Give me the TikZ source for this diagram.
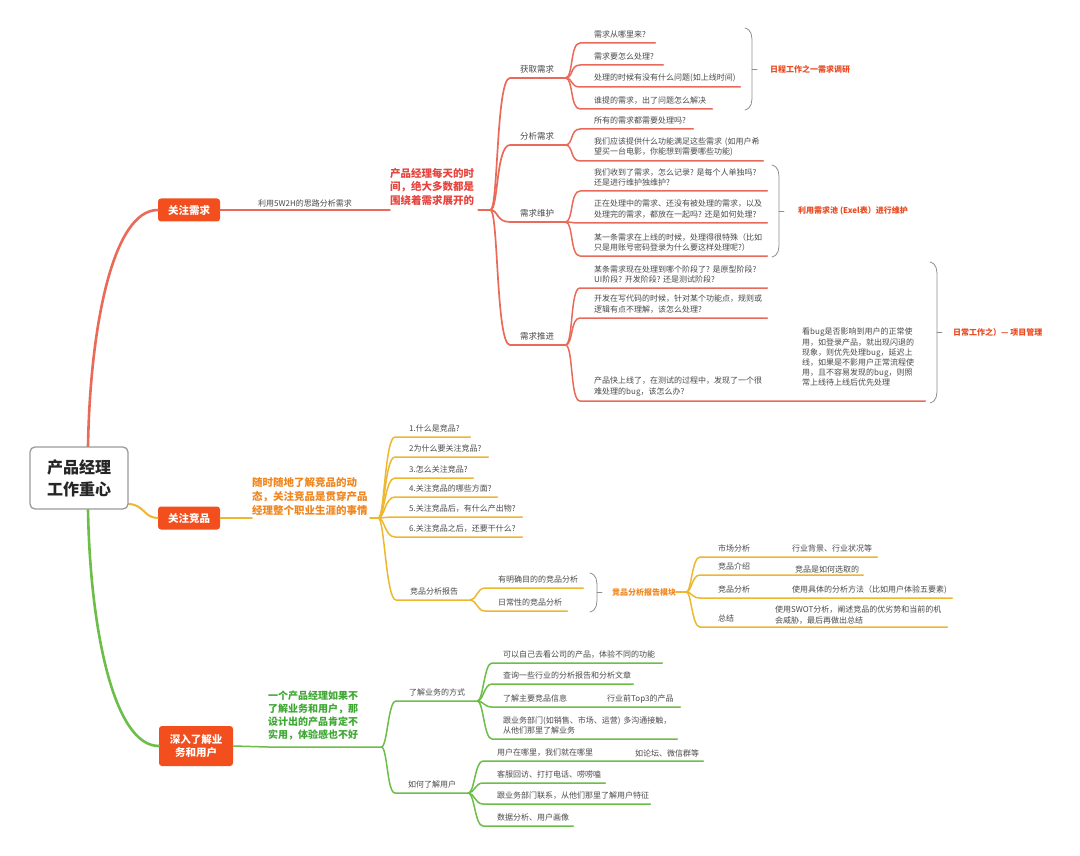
\documentclass[tikz,border=0pt]{standalone}
\usepackage{fontspec}
\setmainfont{Noto Sans CJK SC}
\definecolor{rline}{HTML}{EA6A5A}
\definecolor{yline}{HTML}{EDB830}
\definecolor{gline}{HTML}{6DBE48}
\definecolor{boxc}{HTML}{F24E1E}
\definecolor{redtxt}{HTML}{E6443E}
\definecolor{labred}{HTML}{E94A20}
\definecolor{orgtxt}{HTML}{F0861E}
\definecolor{grntxt}{HTML}{3FA834}
\definecolor{txt}{HTML}{4A4A4A}
\definecolor{brc}{HTML}{8E8E8E}
\definecolor{rootb}{HTML}{9A9A9A}
\tikzset{
 leaf/.style={anchor=south west, inner xsep=0pt, inner ysep=4.5pt, align=left, text=txt, font=\fontsize{8}{10.5}\selectfont},
 side/.style={anchor=west, inner sep=0pt, align=left, text=txt, font=\fontsize{8}{10.3}\selectfont},
 mid/.style={anchor=south west, inner xsep=0pt, inner ysep=5pt, align=left, text=txt, font=\fontsize{8.5}{11}\selectfont},
 box/.style={fill=boxc, rounded corners=3pt, text=white, font=\bfseries\fontsize{10.5}{13}\selectfont, align=center, inner sep=2pt},
 lab/.style={anchor=west, inner sep=0pt, font=\bfseries\fontsize{8}{10}\selectfont},
 rl/.style={draw=rline, line width=1.5pt},
 yl/.style={draw=yline, line width=1.5pt},
 gl/.style={draw=gline, line width=1.5pt},
 bracestyle/.style={draw=brc, line width=0.8pt},
}
\newcommand\mybrace[3]{%
 \pgfmathsetmacro\bm{(#2+#3)/2}%
 \draw[bracestyle] (#1,#2) .. controls (#1+7,#2+2) and (#1+7,#2+8) .. (#1+7,#2+16) -- (#1+7,#3-16) .. controls (#1+7,#3-8) and (#1+7,#3-2) .. (#1,#3);
 \draw[bracestyle] (#1+7,\bm) -- (#1+12,\bm);
}
\begin{document}
\begin{tikzpicture}[x=1pt,y=-1pt, line cap=round, line join=round]
\fill[white] (0,0) rectangle (1080,856);
\useasboundingbox (0,0) rectangle (1080,856);

% ---------- root and main boxes
\node[box, minimum width=62pt, minimum height=23pt] (b1) at (189,210) {关注需求};
\node[box, minimum width=62pt, minimum height=23pt] (b2) at (189,518) {关注竞品};
\node[box, minimum width=74pt, minimum height=40pt] (b3) at (196,746) {深入了解业\\务和用户};

\draw[draw=rline, line width=2.6pt] (88,447) .. controls +(2,-120) and +(-45,0) .. (b1.west);
\draw[draw=gline, line width=2.6pt] (88,509) .. controls +(2,120) and +(-45,0) .. (b3.west);
\draw[draw=yline, line width=2pt] (128,504) .. controls +(16,0) and +(-14,0) .. (b2.west);

\node[draw=rootb, line width=1.3pt, rounded corners=5pt, fill=white, minimum width=98pt, minimum height=62pt, align=center, font=\bfseries\fontsize{16}{22}\selectfont, text=black!85] (root) at (79,478) {产品经理\\工作重心};

% ---------- red branch
\node[anchor=south west, inner xsep=0pt, inner ysep=4.5pt, text width=88pt, align=left, text=redtxt, font=\bfseries\fontsize{10.5}{13.5}\selectfont] (t1) at (390,210) {产品经理每天的时\\间，绝大多数都是\\围绕着需求展开的};
\draw[rl] (b1.east) -- node[above=1pt, text=txt, font=\fontsize{8}{10}\selectfont, inner sep=1pt] (lbl1) {利用5W2H的思路分析需求} (t1.south west);

\node[mid, text width=45pt] (q1) at (520,78) {获取需求};
\node[mid, text width=45pt] (q2) at (520,145) {分析需求};
\node[mid, text width=45pt] (q3) at (520,222) {需求维护};
\node[mid, text width=45pt] (q4) at (520,345) {需求推进};
\foreach \n in {q1,q2,q3,q4}
 \draw[rl, line width=1.7pt] (t1.south east) -- ++(12,0) .. controls +(8,0) and +(-14,0) .. ([xshift=-10pt]\n.south west) -- (\n.south east);

\node[leaf, text width=61pt] (a11) at (594,43) {需求从哪里来?};
\node[leaf, text width=69pt] (a12) at (594,65) {需求要怎么处理?};
\node[leaf, text width=146pt] (a13) at (594,87) {处理的时候有没有什么问题(如上线时间)};
\node[leaf, text width=118pt] (a14) at (594,109) {谁提的需求，出了问题怎么解决};
\node[leaf, text width=99pt] (a21) at (594,129) {所有的需求都需要处理吗?};
\node[leaf, text width=169pt] (a22) at (594,161) {我们应该提供什么功能满足这些需求~(如用户希\\望买一台电影，你能想到需要哪些功能)};
\node[leaf, text width=173pt] (a31) at (594,191) {我们收到了需求，怎么记录?~是每个人单独吗?\\还是进行维护独维护?};
\node[leaf, text width=173pt] (a32) at (594,223) {正在处理中的需求、还没有被处理的需求，以及\\处理完的需求，都放在一起吗?~还是如何处理?};
\node[leaf, text width=173pt] (a33) at (594,256) {某一条需求在上线的时候，处理得很特殊（比如\\只是用账号密码登录为什么要这样处理呢?）};
\node[leaf, text width=173pt] (a41) at (594,288) {某条需求现在处理到哪个阶段了?~是原型阶段?\\UI阶段?~开发阶段?~还是测试阶段?};
\node[leaf, text width=173pt] (a42) at (594,318) {开发在写代码的时候，针对某个功能点，规则或\\逻辑有点不理解，该怎么处理?};
\node[leaf, text width=331pt] (a43) at (594,401) {产品快上线了，在测试的过程中，发现了一个很\\难处理的bug，该怎么办?};
\node[side, anchor=north west, font=\fontsize{8}{10.2}\selectfont] (s43) at (802,328) {看bug是否影响到用户的正常使\\用，如登录产品，就出现闪退的\\现象，则优先处理bug，延迟上\\线，如果是不影用户正常流程使\\用，且不容易发现的bug，则照\\常上线待上线后优先处理};

\foreach \n in {a11,a12,a13,a14}
 \draw[rl] (q1.south east) .. controls +(8,0) and +(-10,0) .. ([xshift=-14pt]\n.south west) -- (\n.south east);
\foreach \n in {a21,a22}
 \draw[rl] (q2.south east) .. controls +(8,0) and +(-10,0) .. ([xshift=-14pt]\n.south west) -- (\n.south east);
\foreach \n in {a31,a32,a33}
 \draw[rl] (q3.south east) .. controls +(8,0) and +(-10,0) .. ([xshift=-14pt]\n.south west) -- (\n.south east);
\foreach \n in {a41,a42,a43}
 \draw[rl] (q4.south east) .. controls +(8,0) and +(-10,0) .. ([xshift=-14pt]\n.south west) -- (\n.south east);

\mybrace{745}{28}{110}
\mybrace{772}{165}{257}
\mybrace{930}{262}{403}
\node[lab, text=labred] (L1) at (770,69) {日程工作之一需求调研};
\node[lab, text=labred] (L2) at (798,211) {利用需求池~(Exel表）进行维护};
\node[lab, text=labred] (L3) at (953,332) {日常工作之）— 项目管理};

% ---------- yellow branch
\node[anchor=south west, inner xsep=0pt, inner ysep=2.7pt, text width=118pt, align=left, text=orgtxt, font=\bfseries\fontsize{10.5}{14}\selectfont] (t2) at (252,518) {随时随地了解竞品的动\\态，关注竞品是贯穿产品\\经理整个职业生涯的事情};
\draw[yl] (b2.east) -- (t2.south west);

\node[leaf, text width=61pt] (c1) at (409,437) {1.什么是竞品?};
\node[leaf, text width=79pt] (c2) at (409,457) {2为什么要关注竞品?};
\node[leaf, text width=64pt] (c3) at (409,478) {3.怎么关注竞品?};
\node[leaf, text width=88pt] (c4) at (409,497) {4.关注竞品的哪些方面?};
\node[leaf, text width=113pt] (c5) at (409,517) {5.关注竞品后，有什么产出物?};
\node[leaf, text width=113pt] (c6) at (409,537) {6.关注竞品之后，还要干什么?};
\node[leaf, text width=60pt] (c7) at (410,600) {竞品分析报告};
\foreach \n in {c1,c2,c3,c4,c5,c6,c7}
 \draw[yl] (t2.south east) -- ++(8,0) .. controls +(6,0) and +(-10,0) .. ([xshift=-14pt]\n.south west) -- (\n.south east);

\node[leaf, text width=85pt] (d1) at (498,588) {有明确目的的竞品分析};
\node[leaf, text width=69pt] (d2) at (498,611) {日常性的竞品分析};
\foreach \n in {d1,d2}
 \draw[yl] (c7.south east) .. controls +(6,0) and +(-8,0) .. ([xshift=-13pt]\n.south west) -- (\n.south east);
\mybrace{590}{573}{612}
\node[lab, text=orgtxt] (L4) at (612,592) {竞品分析报告模块};

\node[leaf, text width=159pt] (e1) at (718,557) {市场分析};
\node[side] (f1) at (792,548) {行业背景、行业状况等};
\node[leaf, text width=145pt] (e2) at (718,575) {竞品介绍};
\node[side] (f2) at (795,569) {竞品是如何选取的};
\node[leaf, text width=234pt] (e3) at (718,598) {竞品分析};
\node[side] (f3) at (792,590) {使用具体的分析方法（比如用户体验五要素)};
\node[leaf, text width=229pt] (e4) at (718,627) {总结};
\node[side] (f4) at (775,615) {使用SWOT分析，阐述竞品的优劣势和当前的机\\会威胁，最后再做出总结};
\foreach \n in {e1,e2,e3,e4}
 \draw[yl] (L4.east) -- ++(10,0) .. controls +(5,0) and +(-8,0) .. ([xshift=-18pt]\n.south west) -- (\n.south east);

% ---------- green branch
\node[anchor=south west, inner xsep=0pt, inner ysep=7pt, text width=113pt, align=left, text=grntxt, font=\bfseries\fontsize{10}{13}\selectfont] (t3) at (268,747) {一个产品经理如果不\\了解业务和用户，那\\设计出的产品肯定不\\实用，体验感也不好};
\draw[gl] (b3.east) -- (t3.south west) -- (t3.south east);

\node[leaf, text width=68pt] (g1) at (409,701) {了解业务的方式};
\node[leaf, text width=60pt] (g2) at (408,793) {如何了解用户};
\foreach \n in {g1,g2}
 \draw[gl] (t3.south east) .. controls +(6,0) and +(-8,0) .. ([xshift=-13pt]\n.south west) -- (\n.south east);

\node[leaf, text width=159pt] (h1) at (503,663) {可以自己去看公司的产品，体验不同的功能};
\node[leaf, text width=130pt] (h2) at (503,684) {查询一些行业的分析报告和分析文章};
\node[leaf, text width=177pt] (h3) at (503,707) {了解主要竞品信息};
\node[side] (i3) at (607,699) {行业前Top3的产品};
\node[leaf, text width=174pt] (h4) at (503,739) {跟业务部门(如销售、市场、运营)~多沟通接触，\\从他们那里了解业务};
\foreach \n in {h1,h2,h3,h4}
 \draw[gl] (g1.south east) .. controls +(6,0) and +(-8,0) .. ([xshift=-11pt]\n.south west) -- (\n.south east);

\node[leaf, text width=206pt] (k1) at (497,761) {用户在哪里，我们就在哪里};
\node[side] (m1) at (635,753) {如论坛、微信群等};
\node[leaf, text width=108pt] (k2) at (497,783) {客服回访、打打电话、唠唠嗑};
\node[leaf, text width=153pt] (k3) at (497,804) {跟业务部门联系，从他们那里了解用户特征};
\node[leaf, text width=76pt] (k4) at (497,826) {数据分析、用户画像};
\foreach \n in {k1,k2,k3,k4}
 \draw[gl] (g2.south east) .. controls +(6,0) and +(-8,0) .. ([xshift=-14pt]\n.south west) -- (\n.south east);
\end{tikzpicture}
\end{document}
